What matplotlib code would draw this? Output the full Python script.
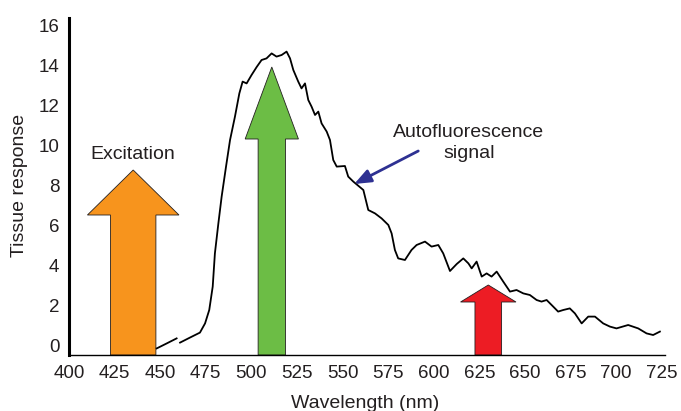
import numpy as np
import matplotlib
matplotlib.use("Agg")
import matplotlib.pyplot as plt
from matplotlib.patches import FancyArrow

# Tissue autofluorescence spectrum
wavelength = [448.1, 453.6, 459.0, np.nan, 460.9, 466.3, 471.8, 474.6, 476.9,
              478.8, 480.0, 481.9, 483.7, 486.1, 488.3, 491.0, 493.4, 495.2,
              497.4, 500.1, 502.9, 505.6, 508.3, 511.1, 513.8, 516.6, 519.3,
              521.2, 523.0, 525.7, 527.5, 529.4, 531.2, 533.0, 534.9, 536.7,
              538.5, 541.3, 543.1, 544.9, 546.8, 551.3, 553.1, 555.9, 561.4,
              564.1, 567.8, 571.4, 575.1, 576.9, 578.7, 580.5, 584.2, 587.8,
              590.6, 595.2, 598.8, 602.5, 605.2, 608.9, 612.6, 616.2, 619.0,
              620.8, 623.5, 626.3, 629.0, 631.7, 634.5, 638.1, 641.8, 645.4,
              649.1, 652.7, 656.4, 659.1, 661.9, 665.5, 668.2, 671.0, 674.6,
              677.4, 681.1, 684.7, 688.4, 692.9, 696.6, 700.2, 706.6, 712.1,
              716.7, 720.3, 724.0]
response = [-0.17, 0.08, 0.33, np.nan, 0.12, 0.37, 0.62, 1.08, 1.75,
            2.92, 4.58, 6.08, 7.42, 8.92, 10.25, 11.42, 12.58, 13.17,
            13.08, 13.5, 13.9, 14.25, 14.33, 14.58, 14.42, 14.5, 14.67,
            14.33, 13.75, 13.17, 12.83, 13.08, 12.25, 11.92, 11.5, 11.67,
            11.08, 10.67, 10.25, 9.25, 8.92, 8.95, 8.42, 8.17, 7.75,
            6.75, 6.58, 6.33, 6.0, 5.58, 4.75, 4.33, 4.25, 4.75,
            5.0, 5.17, 4.92, 5.0, 4.58, 3.7, 4.05, 4.33, 4.08,
            3.83, 4.17, 3.42, 3.58, 3.42, 3.67, 3.17, 2.67, 2.75,
            2.58, 2.5, 2.25, 2.17, 2.25, 1.92, 1.67, 1.75, 1.83,
            1.58, 1.08, 1.42, 1.42, 1.08, 0.92, 0.83, 1.0, 0.83,
            0.58, 0.5, 0.67]

# Block arrows: centre, shaft width, head width, tip height, head length
arrow_centres = [435.2, 511.2, 629.9]
arrow_shaft_widths = [24.9, 15.0, 14.6]
arrow_head_widths = [50.2, 29.2, 30.4]
arrow_tips = [8.75, 13.9, 3.0]
arrow_head_lengths = [2.25, 3.6, 0.85]
arrow_colors = ["#f7941d", "#6cbd45", "#ed1c24"]

x_ticks = list(range(400, 726, 25))
y_ticks = list(range(0, 17, 2))

text_color = "#231f20"
plt.rcParams["font.family"] = ["Liberation Sans", "DejaVu Sans"]

fig = plt.figure(figsize=(6.81, 4.11), dpi=100)
ax = fig.add_axes([69 / 681, 56 / 411, 596 / 681, 337 / 411])

y_base = -0.5
ax.set_xlim(400, 726.8)
ax.set_ylim(y_base, 16.35)

for cx, sw, hw, tip, hl, col in zip(arrow_centres, arrow_shaft_widths,
                                    arrow_head_widths, arrow_tips,
                                    arrow_head_lengths, arrow_colors):
    ax.add_patch(FancyArrow(cx, y_base, 0, tip - y_base, width=sw,
                            head_width=hw, head_length=hl,
                            length_includes_head=True, facecolor=col,
                            edgecolor=text_color, linewidth=0.6, zorder=2))

ax.plot(wavelength, response, color="black", linewidth=1.3, zorder=3)

ax.text(435.2, 9.55, "Excitation", ha="center", va="center",
        fontsize=14, color=text_color)
ax.text(619.3, 10.1, "Autofluorescence\nsignal", ha="center", va="center",
        fontsize=14, color=text_color, linespacing=1.3)
ax.annotate("", xy=(556.4, 8.05), xytext=(591.5, 9.7),
            arrowprops=dict(arrowstyle="-|>,head_length=1.0,head_width=0.4",
                            color="#2e3192", lw=2.0, shrinkA=0, shrinkB=0),
            zorder=4)

ax.set_xticks(x_ticks)
ax.set_yticks(y_ticks)
ax.tick_params(length=0, labelsize=13.5, labelcolor=text_color, pad=7)
for side in ["top", "right"]:
    ax.spines[side].set_visible(False)
ax.spines["left"].set_linewidth(2.2)
ax.spines["bottom"].set_linewidth(1.0)

fig.text(20 / 681, 1 - 185 / 411, "Tissue response", rotation=90,
         ha="center", va="center", fontsize=14, color=text_color)
fig.text(365 / 681, 1 - 403 / 411, "Wavelength (nm)",
         ha="center", va="center", fontsize=14, color=text_color)

fig.savefig("out.png", dpi=100)
